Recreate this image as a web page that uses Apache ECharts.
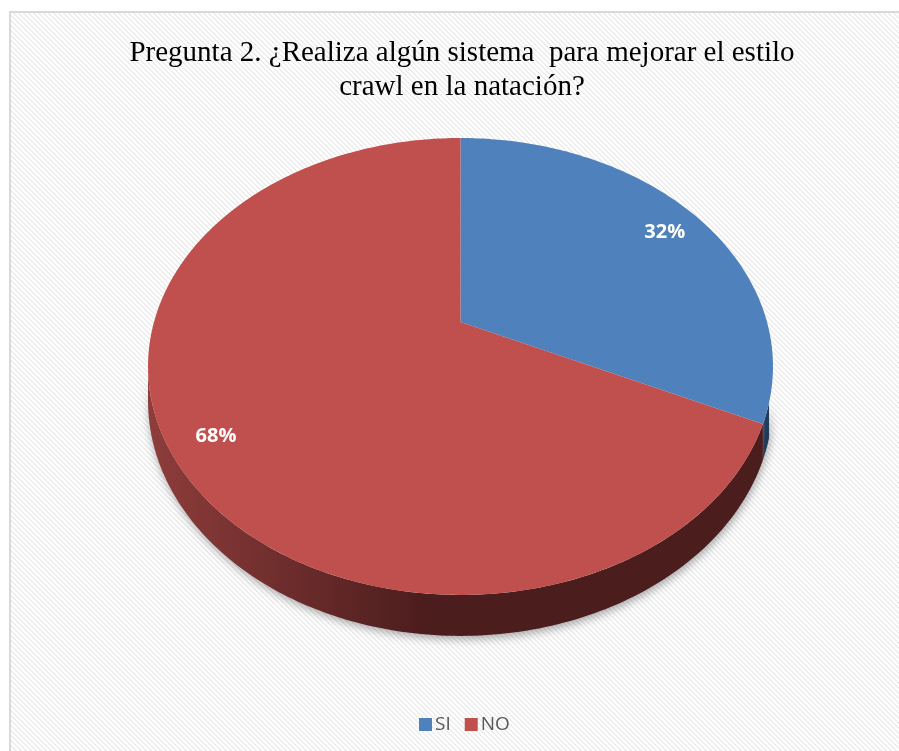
<!DOCTYPE html>
<html><head><meta charset="utf-8">
<script src="https://cdn.jsdelivr.net/npm/echarts@6/dist/echarts.min.js"></script>
<style>html,body{margin:0;padding:0;background:#fff}#c{width:899px;height:751px}</style>
</head><body><div id="c"></div>
<script>
const categories = ['SI', 'NO'];
const values = [32, 68];
const titleLines = ['Pregunta 2. ¿Realiza algún sistema  para mejorar el estilo', 'crawl en la natación?'];
const colors = ['#4f81bd', '#c0504d'];
const wallColors = [['#3b6190', '#243c5c'], ['#8e3d3b', '#4c1d1d']];

const G = {cx: 460.5, cy: 322, A: 306.5, B: 219.8, p: 0.1947, h: 33, labelR: 0.86};
const total = values.reduce((a, b) => a + b, 0);
const starts = values.map((v, i) => values.slice(0, i).reduce((a, b) => a + b, 0) / total * 360);
const visLo = 110;
const visHi = 360 - (90 + Math.asin(G.p) * 180 / Math.PI);

function proj(deg, r, drop) {
  const t = deg * Math.PI / 180;
  const u = r * Math.sin(t), v = r * Math.cos(t);
  const s = 1 / (1 + G.p * v);
  return [G.cx + G.A * u * s, G.cy - G.B * v * s + (drop ? G.h * s : 0)];
}
function arc(a0, a1, drop) {
  const pts = [];
  const n = Math.max(2, Math.ceil(Math.abs(a1 - a0)));
  for (let k = 0; k <= n; k++) pts.push(proj(a0 + (a1 - a0) * k / n, 1, drop));
  return pts;
}

function renderItem(params, api) {
  const i = params.seriesIndex;
  const a0 = starts[i];
  const a1 = a0 + api.value(0) / total * 360;
  const children = [];
  const w0 = Math.max(a0, visLo), w1 = Math.min(a1, visHi);
  if (w1 > w0) {
    const top = arc(w0, w1, false);
    const bot = arc(w0, w1, true).reverse();
    children.push({
      type: 'polygon',
      shape: {points: top.concat(bot)},
      style: {
        fill: {type: 'linear', x: 0, y: 0, x2: 1, y2: 0, colorStops: [
          {offset: 0, color: wallColors[i][0]}, {offset: 0.45, color: wallColors[i][1]}, {offset: 1, color: wallColors[i][1]}]},
        shadowBlur: 10, shadowColor: 'rgba(0,0,0,0.35)', shadowOffsetY: 3, shadowOffsetX: 1
      }
    });
  }
  children.push({
    type: 'polygon',
    shape: {points: [proj(0, 0, false)].concat(arc(a0, a1, false))},
    style: {fill: colors[i]}
  });
  const lp = proj((a0 + a1) / 2, G.labelR, false);
  children.push({
    type: 'text', x: lp[0], y: lp[1] + 3,
    style: {
      text: Math.round(api.value(0) / total * 100) + '%',
      fill: '#fff', font: 'bold 20px "Open Sans"', align: 'center', verticalAlign: 'middle'
    }
  });
  return {type: 'group', children};
}

const pc = document.createElement('canvas');
pc.width = 5; pc.height = 5;
const ctx = pc.getContext('2d');
ctx.fillStyle = '#ffffff'; ctx.fillRect(0, 0, 5, 5);
ctx.fillStyle = '#ececec';
for (let y = 0; y < 5; y++) for (let x = 0; x < 5; x++) if ((((x - y) % 5) + 5) % 5 < 2) ctx.fillRect(x, y, 1, 1);

const chart = echarts.init(document.getElementById('c'));
chart.setOption({
  backgroundColor: '#ffffff',
  animation: false,
  graphic: [
    {type: 'rect', z: -10, shape: {x: 10, y: 12, width: 900, height: 750},
     style: {fill: {image: pc, repeat: 'repeat'}, stroke: '#d9d9d9', lineWidth: 2}},
    {type: 'text', z: 10, x: 462, y: 53, style: {text: titleLines[0], font: '29px "Liberation Serif"', fill: '#000', align: 'center', verticalAlign: 'middle'}},
    {type: 'text', z: 10, x: 462, y: 87, style: {text: titleLines[1], font: '29px "Liberation Serif"', fill: '#000', align: 'center', verticalAlign: 'middle'}}
  ],
  legend: {
    data: categories, icon: 'rect', itemWidth: 13, itemHeight: 13, itemGap: 14,
    left: 414, top: 710, itemStyle: {borderWidth: 0},
    textStyle: {fontFamily: 'Open Sans', fontSize: 19, color: '#595959', padding: [0, 0, 0, -2]}
  },
  series: categories.map((c, i) => ({
    type: 'custom', name: c, coordinateSystem: 'none', silent: true,
    itemStyle: {color: colors[i]},
    data: [values[i]],
    renderItem
  }))
});
</script></body></html>
